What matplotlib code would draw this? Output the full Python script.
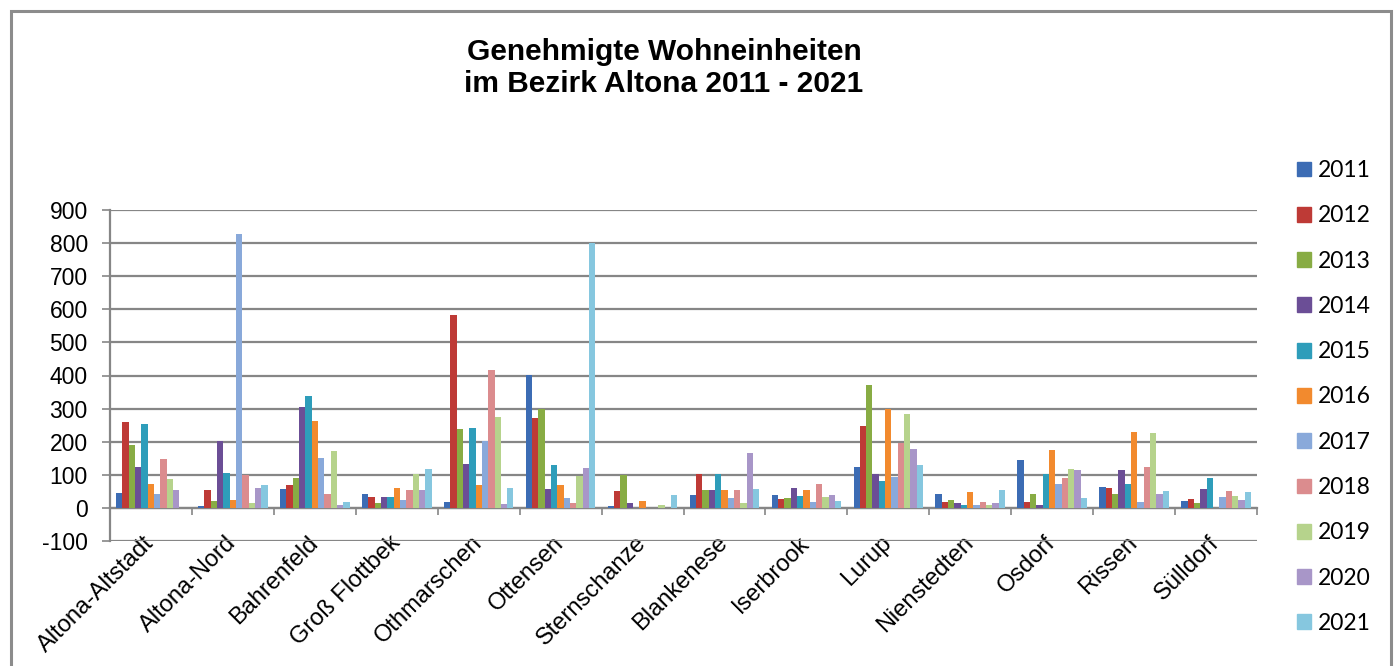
import numpy as np
import matplotlib.pyplot as plt
from matplotlib.patches import Patch, Rectangle

plt.rcParams['axes.unicode_minus'] = False

# districts and years
districts = ['Altona-Altstadt', 'Altona-Nord', 'Bahrenfeld', 'Groß Flottbek',
             'Othmarschen', 'Ottensen', 'Sternschanze', 'Blankenese', 'Iserbrook',
             'Lurup', 'Nienstedten', 'Osdorf', 'Rissen', 'Sülldorf']
years = ['2011', '2012', '2013', '2014', '2015', '2016', '2017', '2018', '2019', '2020', '2021']

# approved dwellings per district, one list per year
v2011 = [45, 5, 56, 43, 18, 403, 6, 40, 40, 123, 43, 144, 64, 22]
v2012 = [260, 55, 68, 34, 582, 273, 51, 103, 27, 247, 17, 17, 61, 28]
v2013 = [189, 20, 89, 15, 239, 299, 99, 53, 30, 371, 25, 43, 43, 15]
v2014 = [125, 202, 304, 32, 134, 56, 15, 53, 61, 101, 14, 10, 113, 58]
v2015 = [253, 105, 339, 32, 241, 129, 0, 103, 35, 81, 8, 103, 73, 89]
v2016 = [71, 24, 263, 61, 69, 69, 22, 53, 55, 299, 48, 174, 228, 0]
v2017 = [42, 828, 150, 24, 202, 30, 0, 30, 17, 93, 10, 73, 18, 32]
v2018 = [149, 99, 43, 55, 417, 14, 0, 53, 71, 197, 17, 89, 123, 51]
v2019 = [86, 14, 172, 101, 276, 96, 10, 15, 32, 285, 10, 118, 225, 35]
v2020 = [53, 59, 8, 55, 12, 121, 0, 167, 40, 177, 15, 113, 43, 25]
v2021 = [0, 69, 17, 119, 61, 800, 40, 56, 20, 129, 55, 30, 51, 48]
values = [v2011, v2012, v2013, v2014, v2015, v2016, v2017, v2018, v2019, v2020, v2021]

colors = ['#3C6CB4', '#BE3A36', '#88AC44', '#6B4E96', '#2E9DBA', '#F28A2E',
          '#89A9DA', '#DB8C8E', '#B6D38C', '#A896C8', '#86C7DF']

W, H = 1397, 666
fig = plt.figure(figsize=(W/100, H/100), dpi=100)
ax = fig.add_axes([110/W, 1-541/H, 1147/W, 331/H])

grey = '#868686'
n = len(years)
x = np.arange(len(districts))
group = 0.85
bw = group/n
for i in range(n):
	ax.bar(x - group/2 + bw*(i+0.5), values[i], width=bw, color=colors[i], zorder=3, label=years[i])

ax.set_xlim(-0.5, len(districts)-0.5)
ax.set_ylim(-100, 900)
ax.set_yticks(np.arange(-100, 1000, 100))
ax.yaxis.grid(True, color=grey, lw=1.6, zorder=1)
ax.tick_params(axis='y', labelsize=16.5, length=6, width=1.2, color=grey, pad=10)
for lab in ax.get_yticklabels():
	lab.set_fontfamily('Liberation Sans')

# x axis sits at zero with boundary ticks, names hang below -100
ax.spines['bottom'].set_position(('data', 0))
ax.spines['bottom'].set_color(grey)
ax.spines['bottom'].set_linewidth(1.6)
ax.spines['left'].set_color(grey)
ax.spines['left'].set_linewidth(1.6)
ax.spines['top'].set_visible(False)
ax.spines['right'].set_visible(False)
ax.set_xticks(np.arange(len(districts)+1) - 0.5)
ax.set_xticklabels([])
ax.tick_params(axis='x', which='major', length=5, width=1.2, color=grey)
ax.set_xticks(x, minor=True)
ax.set_xticklabels(districts, minor=True, rotation=45, ha='right', va='center',
                   rotation_mode='anchor', fontsize=17, fontfamily='Liberation Sans')
ax.tick_params(axis='x', which='minor', length=0, pad=23)

fig.text(664/W, 1-38/H, 'Genehmigte Wohneinheiten\nim Bezirk Altona 2011 - 2021',
         ha='center', va='top', fontsize=21.5, fontweight='bold',
         fontfamily='Liberation Sans', linespacing=1.2)

handles = [Patch(color=c, label=y) for c, y in zip(colors, years)]
fig.legend(handles=handles, loc='upper left', bbox_to_anchor=(1297/W, 1-160/H),
           frameon=False, prop={'family': 'Lato', 'size': 16.5},
           handlelength=0.62, handleheight=0.62, handletextpad=0.3, labelspacing=1.06,
           borderaxespad=0, borderpad=0)

fig.patches.append(Rectangle((11/W, -0.02), 1380/W, 1.02-10.5/H, transform=fig.transFigure,
                             fill=False, edgecolor='#8C8C8C', lw=2.2))

fig.savefig('out.png', dpi=100)
